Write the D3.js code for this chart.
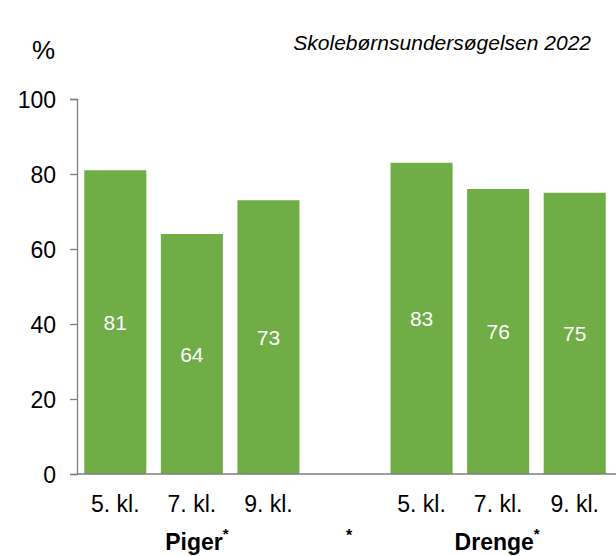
<!DOCTYPE html>
<html>
<head>
<meta charset="utf-8">
<script src="https://cdn.jsdelivr.net/npm/d3@7/dist/d3.min.js"></script>
<style>
  html, body { margin: 0; padding: 0; background: #fff; }
  svg { display: block; font-family: "Liberation Sans", Arial, sans-serif; }
</style>
</head>
<body>
<svg id="chart" width="616" height="556"></svg>
<script>
// Share of pupils per grade, split by gender
const grades = ["5. kl.", "7. kl.", "9. kl."];
const groups = ["Piger", "Drenge"];
const piger = [81, 64, 73];
const drenge = [83, 76, 75];
const yTicks = [0, 20, 40, 60, 80, 100];

// Slots: three bars per group with an empty gap slot between the groups
const slots = ["P0", "P1", "P2", "gap", "D0", "D1", "D2"];
const bars = [
  ...piger.map((v, i) => ({ slot: "P" + i, grade: grades[i], value: v })),
  ...drenge.map((v, i) => ({ slot: "D" + i, grade: grades[i], value: v }))
];

const svg = d3.select("#chart");
const plotLeft = 77, plotRight = 613, plotTop = 99, plotBottom = 474;
const fontFamily = "Liberation Sans, Arial, sans-serif";

const x = d3.scaleBand().domain(slots).range([plotLeft, plotRight]).paddingInner(0.19).paddingOuter(0.095);
const y = d3.scaleLinear().domain([0, 100]).range([plotBottom, plotTop]);

const axisColor = "#7f7f7f";

// Y axis
const yAxis = svg.append("g")
  .attr("transform", `translate(${plotLeft},0)`)
  .call(d3.axisLeft(y).tickValues(yTicks).tickSize(7).tickPadding(14).tickFormat(d3.format("d")));
yAxis.attr("font-family", fontFamily).attr("font-size", 23);
yAxis.select(".domain").attr("stroke", axisColor).attr("stroke-width", 1.3);
yAxis.selectAll(".tick line").attr("stroke", axisColor).attr("stroke-width", 1.3);
yAxis.selectAll(".tick text").attr("fill", "#000").attr("dy", "0.35em");

// Bars
svg.append("g").selectAll("rect").data(bars).join("rect")
  .attr("x", d => x(d.slot))
  .attr("width", x.bandwidth())
  .attr("y", d => y(d.value))
  .attr("height", d => y(0) - y(d.value))
  .attr("fill", "#70ad47");

// Value labels inside bars
svg.append("g").selectAll("text").data(bars).join("text")
  .attr("x", d => x(d.slot) + x.bandwidth() / 2)
  .attr("y", d => (y(d.value) + y(0)) / 2)
  .attr("dy", "0.36em")
  .attr("text-anchor", "middle")
  .attr("font-size", 21)
  .attr("fill", "#fff")
  .text(d => d.value);

// X baseline
svg.append("line")
  .attr("x1", plotLeft).attr("x2", 616)
  .attr("y1", y(0)).attr("y2", y(0))
  .attr("stroke", axisColor).attr("stroke-width", 1.3);

// Grade labels
svg.append("g").selectAll("text").data(bars).join("text")
  .attr("x", d => x(d.slot) + x.bandwidth() / 2)
  .attr("y", 512)
  .attr("text-anchor", "middle")
  .attr("font-size", 23)
  .attr("fill", "#000")
  .text(d => d.grade);

// Group labels with superscript asterisks
const groupCenters = [x("P1") + x.bandwidth() / 2 + 5, x("D1") + x.bandwidth() / 2 - 1];
groups.forEach((g, i) => {
  const t = svg.append("text")
    .attr("x", groupCenters[i])
    .attr("y", 550)
    .attr("text-anchor", "middle")
    .attr("font-size", 23)
    .attr("font-weight", "bold")
    .attr("fill", "#000");
  t.append("tspan").text(g);
  t.append("tspan").attr("font-size", 15).attr("dy", -11).text("*");
});
svg.append("text")
  .attr("x", x("gap") + x.bandwidth() / 2 + 4)
  .attr("y", 541)
  .attr("text-anchor", "middle")
  .attr("font-size", 16)
  .attr("font-weight", "bold")
  .attr("fill", "#000")
  .text("*");

// Unit label and source
svg.append("text").attr("x", 32).attr("y", 59).attr("font-size", 26).attr("fill", "#000").text("%");
svg.append("text").attr("x", 591).attr("y", 50).attr("text-anchor", "end")
  .attr("font-size", 21).attr("font-style", "italic").attr("fill", "#000")
  .text("Skolebørnsundersøgelsen 2022");
</script>
</body>
</html>
